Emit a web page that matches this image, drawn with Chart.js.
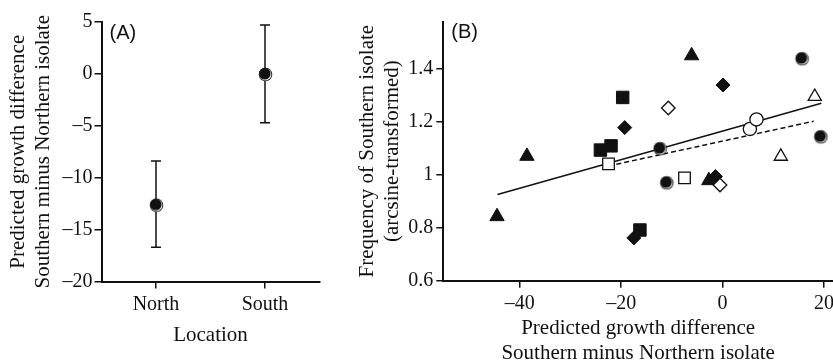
<!DOCTYPE html>
<html><head><meta charset="utf-8">
<script src="https://cdn.jsdelivr.net/npm/chart.js@4/dist/chart.umd.min.js"></script>
<style>
html,body{margin:0;padding:0;background:#fff;overflow:hidden;width:833px;height:360px;}
#ca{position:absolute;left:0;top:0;}
#cb{position:absolute;left:340px;top:0;}
</style></head><body>
<canvas id="ca" width="340" height="360"></canvas>
<canvas id="cb" width="520" height="360"></canvas>
<script>
// ---------- Panel A data ----------
const locations = ['North', 'South'];
const meanDiff = [-12.6, 0.0];
const errHigh = [-8.4, 4.7];
const errLow = [-16.7, -4.7];
const aYTicks = [-20, -15, -10, -5, 0, 5];

// ---------- Panel B data ----------
const bXTicks = [-40, -20, 0, 20];
const bYTicks = [0.6, 0.8, 1, 1.2, 1.4];
const trianglesFilledX = [-44.5, -38.6, -6.1, -2.7];
const trianglesFilledY = [0.843, 1.071, 1.451, 0.979];
const squaresFilledX = [-24.1, -22.0, -19.7, -16.3];
const squaresFilledY = [1.094, 1.110, 1.293, 0.792];
const diamondsFilledX = [-19.3, -17.5, -1.4, 0.1];
const diamondsFilledY = [1.179, 0.762, 0.994, 1.340];
const circlesDoubleX = [-12.4, -11.1, 15.6, 19.3];
const circlesDoubleY = [1.101, 0.972, 1.441, 1.146];
const diamondsOpenX = [-10.7, -0.5];
const diamondsOpenY = [1.253, 0.962];
const squaresOpenX = [-22.5, -7.5];
const squaresOpenY = [1.042, 0.989];
const trianglesOpenX = [11.5, 18.2];
const trianglesOpenY = [1.070, 1.296];
const circlesOpenX = [5.4, 6.7];
const circlesOpenY = [1.174, 1.210];
const fitAllX = [-44.4, 19.5];
const fitAllY = [0.926, 1.271];
const fitOpenX = [-22.5, 18.0];
const fitOpenY = [1.034, 1.203];

// ---------- helpers ----------
const SERIF = '"Liberation Serif", "Times New Roman", serif';
const SANS = '"Liberation Sans", Arial, sans-serif';
const BLACK = '#111';

function makeDoubleCircle(r) {
  const s = Math.ceil(2 * r + 4);
  const c = document.createElement('canvas');
  c.width = s; c.height = s;
  const g = c.getContext('2d');
  const m = s / 2;
  g.fillStyle = BLACK; g.beginPath(); g.arc(m + 0.5, m + 0.5, r, 0, 2 * Math.PI); g.fill();
  g.fillStyle = '#fff'; g.beginPath(); g.arc(m + 0.4, m + 0.4, r - 0.8, 0, 2 * Math.PI); g.fill();
  g.fillStyle = BLACK; g.beginPath(); g.arc(m - 0.2, m - 0.2, r - 1.0, 0, 2 * Math.PI); g.fill();
  return c;
}
const dblCircle = makeDoubleCircle(6.8);

const zip = (xs, ys) => xs.map((x, i) => ({ x: x, y: ys[i] }));
const minusFmt = v => (v < 0 ? '\u2013' + Math.abs(v) : String(v));

function panelLabel(txt) {
  return {
    id: 'panelLabel',
    afterDraw(chart) {
      const { ctx, chartArea } = chart;
      ctx.save();
      ctx.font = '20px ' + SANS;
      ctx.fillStyle = BLACK;
      ctx.textBaseline = 'middle';
      ctx.textAlign = 'left';
      ctx.fillText(txt, chartArea.left + 8, chartArea.top + 11);
      ctx.restore();
    }
  };
}

const errorBars = {
  id: 'errorBars',
  beforeDatasetsDraw(chart) {
    const { ctx, scales } = chart;
    const x = scales.x, y = scales.y;
    ctx.save();
    ctx.strokeStyle = BLACK;
    ctx.lineWidth = 1.5;
    locations.forEach((loc, i) => {
      const px = x.getPixelForValue(i);
      const yt = y.getPixelForValue(errHigh[i]);
      const yb = y.getPixelForValue(errLow[i]);
      ctx.beginPath();
      ctx.moveTo(px, yt); ctx.lineTo(px, yb);
      ctx.moveTo(px - 5, yt); ctx.lineTo(px + 5, yt);
      ctx.moveTo(px - 5, yb); ctx.lineTo(px + 5, yb);
      ctx.stroke();
    });
    ctx.restore();
  }
};

const gridCfg = { display: true, drawOnChartArea: false, drawTicks: true, tickLength: 7, lineWidth: 1.5, tickWidth: 1.5, color: BLACK, tickColor: BLACK };
const borderCfg = { display: true, color: BLACK, width: 2 };

// ---------- Panel A ----------
new Chart(document.getElementById('ca'), {
  type: 'line',
  data: {
    labels: locations,
    datasets: [{
      data: meanDiff,
      showLine: false,
      pointStyle: dblCircle,
      pointRadius: 7,
      backgroundColor: BLACK,
      borderColor: BLACK
    }]
  },
  options: {
    responsive: false,
    animation: false,
    events: [],
    layout: { padding: { top: 22, right: 20.5, bottom: 0, left: 0 } },
    plugins: { legend: { display: false }, tooltip: { enabled: false } },
    scales: {
      x: {
        type: 'category',
        offset: true,
        grid: Object.assign({}, gridCfg, { offset: false }),
        border: borderCfg,
        ticks: { color: BLACK, font: { family: SERIF, size: 20 }, padding: 4, maxRotation: 0 },
        title: { display: true, text: 'Location', color: BLACK, font: { family: SERIF, size: 21, lineHeight: 1.15 }, padding: { top: 0, bottom: 12 } },
        afterFit(s) { s.height = 78.5; }
      },
      y: {
        min: -20, max: 5,
        grid: gridCfg,
        border: borderCfg,
        afterBuildTicks(s) { s.ticks = aYTicks.map(v => ({ value: v })); },
        ticks: { color: BLACK, font: { family: SERIF, size: 20 }, padding: 2, callback: minusFmt },
        title: { display: true, text: ['Predicted growth difference', 'Southern minus Northern isolate'], color: BLACK, font: { family: SERIF, size: 21, lineHeight: 25 / 21 }, padding: { top: 5.5, bottom: 0 } },
        afterFit(s) { s.width = 101.5; }
      }
    }
  },
  plugins: [errorBars, panelLabel('(A)')]
});

// ---------- Panel B ----------
const filled = { backgroundColor: BLACK, borderColor: BLACK, borderWidth: 1 };
const open = { backgroundColor: '#fff', borderColor: BLACK, borderWidth: 1.3 };

new Chart(document.getElementById('cb'), {
  type: 'scatter',
  data: {
    datasets: [
      Object.assign({ data: zip(diamondsOpenX, diamondsOpenY), pointStyle: 'rectRot', pointRadius: 6.8, order: 1 }, open),
      Object.assign({ data: zip(squaresOpenX, squaresOpenY), pointStyle: 'rect', pointRadius: 8.2, order: 2 }, open),
      Object.assign({ data: zip(trianglesOpenX, trianglesOpenY), pointStyle: 'triangle', pointRadius: 7.6, order: 2 }, open),
      Object.assign({ data: zip(circlesOpenX, circlesOpenY), pointStyle: 'circle', pointRadius: 6.6, order: 2 }, open),
      { data: zip(circlesDoubleX, circlesDoubleY), pointStyle: dblCircle, pointRadius: 7, backgroundColor: BLACK, borderColor: BLACK, order: 3 },
      Object.assign({ data: zip(diamondsFilledX, diamondsFilledY), pointStyle: 'rectRot', pointRadius: 7, order: 4 }, filled),
      Object.assign({ data: zip(squaresFilledX, squaresFilledY), pointStyle: 'rect', pointRadius: 8.8, order: 4 }, filled),
      Object.assign({ data: zip(trianglesFilledX, trianglesFilledY), pointStyle: 'triangle', pointRadius: 8.3, order: 4 }, filled),
      { type: 'line', data: zip(fitAllX, fitAllY), showLine: true, pointRadius: 0, borderColor: BLACK, borderWidth: 1.5, fill: false, order: 10 },
      { type: 'line', data: zip(fitOpenX, fitOpenY), showLine: true, pointRadius: 0, borderColor: BLACK, borderWidth: 1.5, borderDash: [5, 3], fill: false, order: 10 }
    ]
  },
  options: {
    responsive: false,
    animation: false,
    events: [],
    layout: { padding: { top: 21.5, right: 27, bottom: 0, left: 0 } },
    plugins: { legend: { display: false }, tooltip: { enabled: false } },
    scales: {
      x: {
        type: 'linear',
        min: -55.1, max: 21.8,
        grid: gridCfg,
        border: borderCfg,
        afterBuildTicks(s) { s.ticks = bXTicks.map(v => ({ value: v })); },
        ticks: { color: BLACK, font: { family: SERIF, size: 20 }, padding: 4, maxRotation: 0, callback: minusFmt },
        title: { display: true, text: ['Predicted growth difference', 'Southern minus Northern isolate'], color: BLACK, font: { family: SERIF, size: 21, lineHeight: 25 / 21 }, padding: { top: 0, bottom: -6 } },
        afterFit(s) { s.height = 79.2; }
      },
      y: {
        type: 'linear',
        min: 0.6, max: 1.58,
        grid: gridCfg,
        border: borderCfg,
        afterBuildTicks(s) { s.ticks = bYTicks.map(v => ({ value: v })); },
        ticks: { color: BLACK, font: { family: SERIF, size: 20 }, padding: 3, callback: v => String(v) },
        title: { display: true, text: ['Frequency of Southern isolate', '(arcsine-transformed)'], color: BLACK, font: { family: SERIF, size: 21, lineHeight: 25 / 21 }, padding: { top: 14.5, bottom: 0 } },
        afterFit(s) { s.width = 103.3; }
      }
    }
  },
  plugins: [panelLabel('(B)')]
});
</script>
</body></html>
